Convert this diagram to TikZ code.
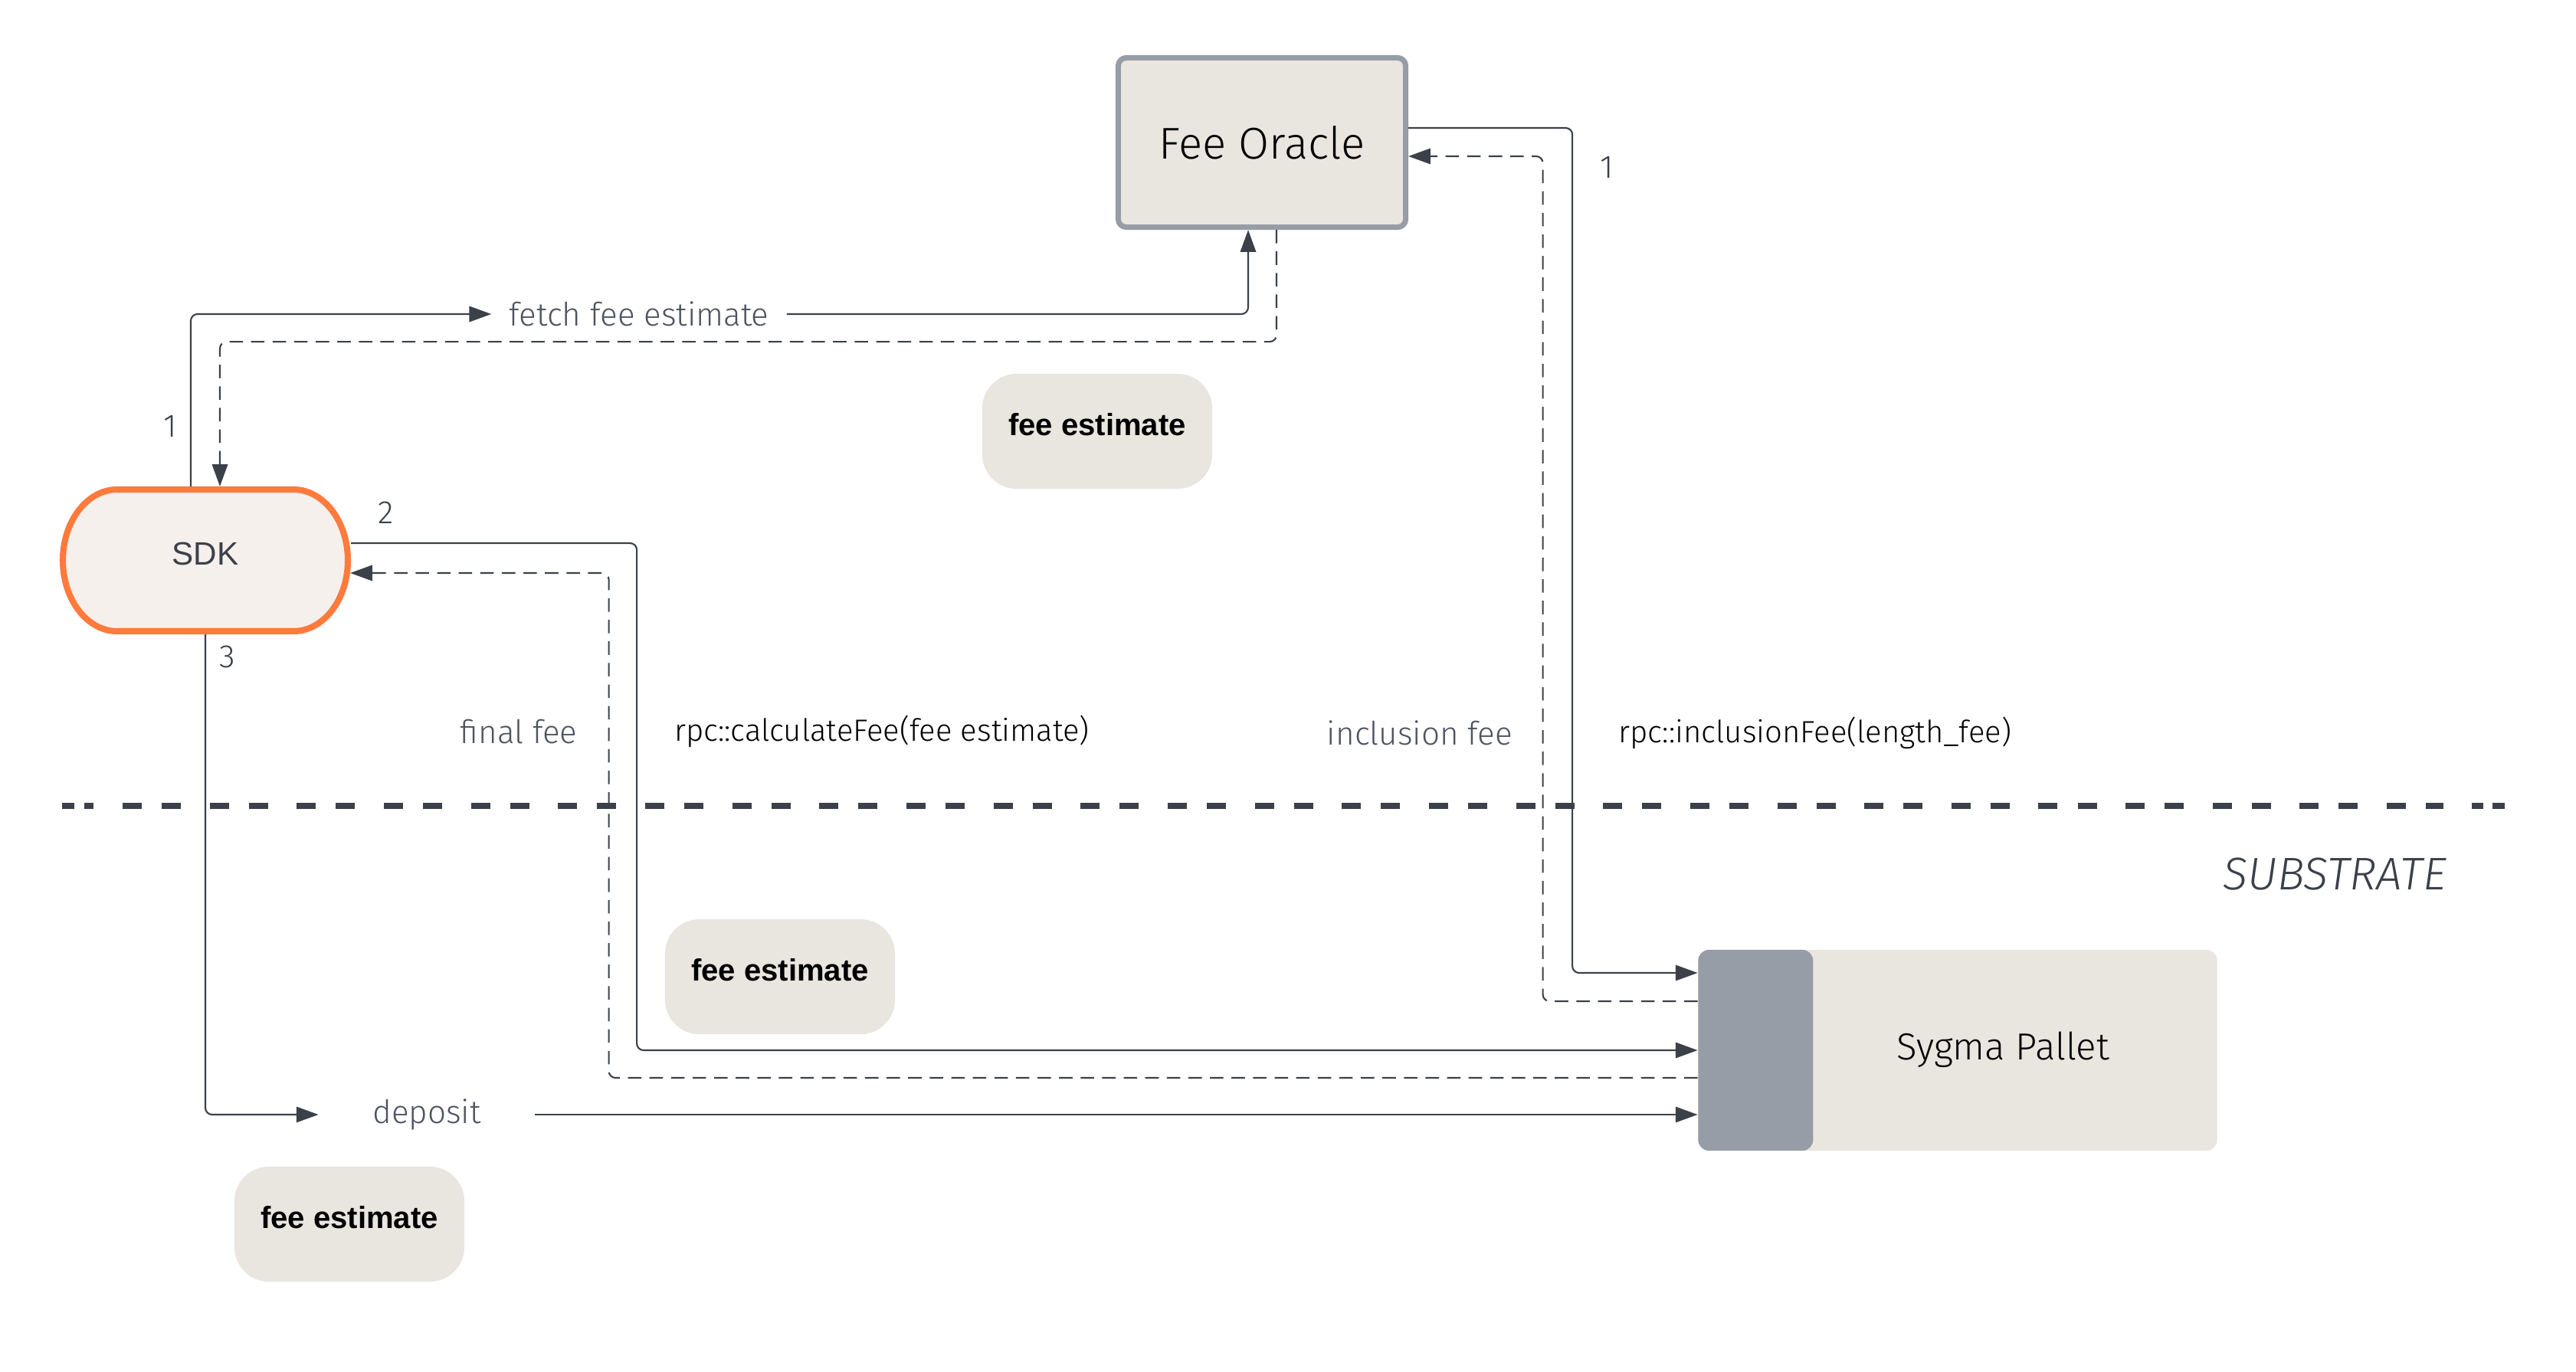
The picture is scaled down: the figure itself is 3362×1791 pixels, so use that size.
\documentclass[tikz,border=0pt]{standalone}
\usepackage{fontspec}
\setmainfont{Fira Sans Light}
\newfontfamily\arialfont{Liberation Sans}
\usetikzlibrary{arrows.meta,calc}
\definecolor{linec}{HTML}{3B4049}
\definecolor{lblgray}{HTML}{4D5461}
\definecolor{boxfill}{HTML}{E9E5DF}
\definecolor{oraclebd}{HTML}{979DA6}
\definecolor{sdkbd}{HTML}{FF7A3D}
\definecolor{sdkfill}{HTML}{F5F0EB}
\definecolor{sdktext}{HTML}{3B4049}
\begin{document}
\begin{tikzpicture}[x=0.01cm,y=-0.01cm,
  conn/.style={draw=linec, line width=0.6pt, rounded corners=2.5pt},
  dconn/.style={conn, dash pattern=on 5pt off 3pt},
  tip/.style={-{Triangle[length=8.2pt,width=5.8pt]}},
  lbl/.style={font=\fontsize{12}{14}\selectfont, text=lblgray, inner sep=0pt},
  rpc/.style={lbl, text=black, font=\fontsize{11.4}{14}\selectfont},
  num/.style={lbl, text=linec, font=\fontsize{12}{14}\selectfont},
  febox/.style={fill=boxfill, rounded corners=0.45cm, minimum width=3cm, minimum height=1.5cm,
    font=\arialfont\bfseries\fontsize{11.4}{13}\selectfont, inner sep=0pt, text depth=5pt},
  oraclebox/.style={draw=oraclebd, line width=2pt, fill=boxfill, rounded corners=3pt,
    minimum width=3.75cm, minimum height=2.21cm, font=\fontsize{16.5}{20}\selectfont, inner sep=0pt},
  sdkborder/.style={draw=sdkbd, fill=sdkfill, line width=2.3pt},
  sepline/.style={draw=linec, line width=2.4pt},
  seppattern/.style={sepline, dash pattern=on 7.11pt off 7.40pt on 7.11pt off 10.70pt}
]
\useasboundingbox (0,0) rectangle (3362,1791);

% separator
\coordinate (sepL) at (160,1052);
\coordinate (sepR) at (3189,1052);
\draw[seppattern] (sepL) -- (sepR);
\draw[sepline] (81,1052) -- (97,1052) (110,1052) -- (122,1052)
  (3226,1052) -- (3241,1052) (3253,1052) -- (3269,1052);
\node[font=\itshape\fontsize{17}{20}\selectfont, text=linec, inner sep=0pt] (substrate) at (3047,1141) {SUBSTRATE};

% Fee Oracle
\node[oraclebox] (oracle) at (1647,186) {Fee Oracle};

% SDK
\draw[sdkborder] (383,639) .. controls (422.2,639) and (454,680.4) .. (454,731.5)
  .. controls (454,782.6) and (422.2,824) .. (383,824) -- (153,824)
  .. controls (113.8,824) and (82,782.6) .. (82,731.5)
  .. controls (82,680.4) and (113.8,639) .. (153,639) -- cycle;
\node[inner sep=0pt, outer sep=0pt, minimum width=3.8cm, minimum height=1.93cm, text depth=5pt,
  font=\arialfont\fontsize{12}{14}\selectfont, text=sdktext] (sdk) at (268,731.5) {SDK};

% Sygma Pallet
\node[fill=boxfill, rounded corners=4pt, minimum width=6.77cm, minimum height=2.62cm, inner sep=0pt,
  path picture={\fill[oraclebd] (path picture bounding box.north west) rectangle ($(path picture bounding box.south west)+(150,0)$);}]
  (pallet) at (2555,1371) {};
\node[font=\fontsize{14}{17}\selectfont, inner sep=0pt] (pallettxt) at (2614,1370) {Sygma Pallet};

% fee estimate boxes
\node[febox] (fe1) at (1432,563) {fee estimate};
\node[febox] (fe2) at (1018,1275) {fee estimate};
\node[febox] (fe3) at (456,1598) {fee estimate};

% labels on connectors
\node[lbl, inner xsep=0.225cm] (fetch) at (834,410) {fetch fee estimate};
\node[lbl, inner xsep=0.7cm] (deposit) at (557,1455) {deposit};
\node[lbl] (finalfee) at (677,955) {final fee};
\node[rpc] (calc) at (1151,955) {rpc::calculateFee(fee estimate)};
\node[lbl] (inclfee) at (1853,957) {inclusion fee};
\node[rpc] (inclrpc) at (2369,957) {rpc::inclusionFee(length\_fee)};
\node[num] (n1a) at (222,556) {1};
\node[num] (n2) at (504,669) {2};
\node[num] (n3) at (297,857) {3};
\node[num] (n1b) at (2097,218) {1};

% step 1: SDK -> Fee Oracle
\draw[conn,tip] ($(sdk.north)+(-19,0)$) |- (fetch.west);
\draw[conn,tip] (fetch.east) -| ($(oracle.south)+(-18,0)$);
\draw[dconn,tip] ($(oracle.south)+(19,0)$) -- ++(0,146) -| ($(sdk.north)+(19,0)$);

% Fee Oracle <-> Sygma Pallet
\draw[conn,tip] ($(oracle.east)+(0,-19)$) -- ++(214,0) |- ($(pallet.west)+(0,-101)$);
\draw[dconn,tip] ($(pallet.west)+(0,-64)$) -- ++(-202,0) |- ($(oracle.east)+(0,18)$);

% step 2: SDK <-> Sygma Pallet
\draw[conn,tip] ($(sdk.east)+(0,-22.5)$) -- ++(373,0) |- (pallet.west);
\draw[dconn,tip] ($(pallet.west)+(0,36)$) -- ++(-1421,0) |- ($(sdk.east)+(-1,16.5)$);

% step 3: deposit
\draw[conn,tip] (sdk.south) |- (deposit.west);
\draw[conn,tip] (deposit.east) -- ($(pallet.west)+(0,84)$);
\end{tikzpicture}
\end{document}
